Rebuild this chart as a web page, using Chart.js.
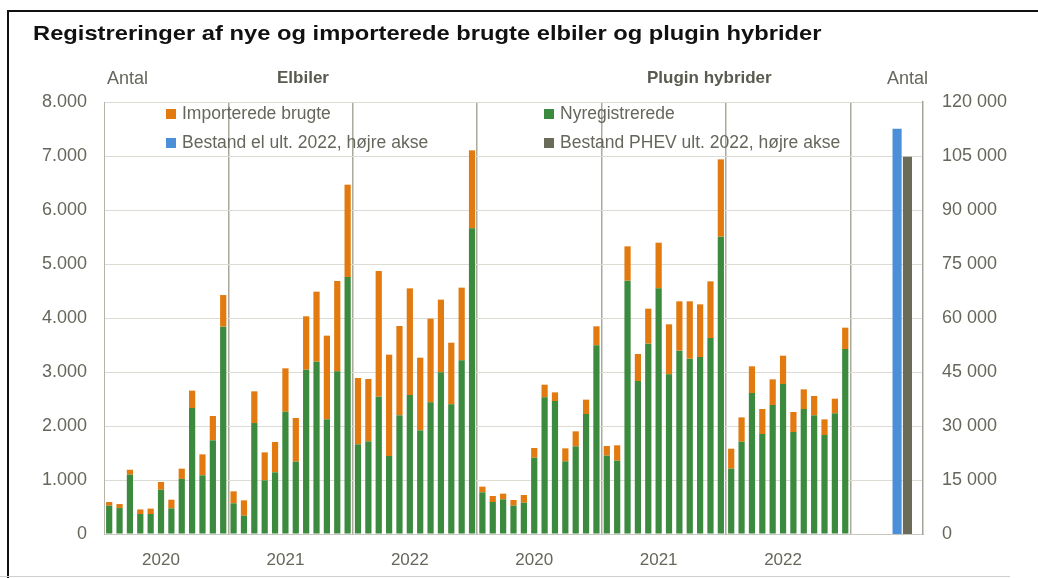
<!DOCTYPE html>
<html>
<head>
<meta charset="utf-8">
<script src="https://cdn.jsdelivr.net/npm/chart.js@4"></script>
<style>
  html, body { margin: 0; padding: 0; background: #fff; }
  body { width: 1038px; height: 578px; position: relative; overflow: hidden; font-family: "Liberation Sans", Arial, sans-serif; }
  #frame { position: absolute; left: 7px; top: 10px; width: 1040px; height: 580px; border-left: 2px solid #111; border-top: 2px solid #111; }
  #bottomline { position: absolute; left: 0; top: 576px; width: 1010px; height: 1px; background: #cfcfcf; }
  #wrap { position: absolute; left: 0; top: 0; width: 1038px; height: 578px; }
  .txt { position: absolute; white-space: nowrap; color: #66665c; font-size: 18px; line-height: 20px; }
  #title { left: 33px; top: 21px; font-size: 21px; font-weight: bold; color: #111; line-height: 24px; transform: scaleX(1.13); transform-origin: 0 50%; }
  .bold { font-weight: bold; color: #5a5a50; font-size: 17px; }
  .leg { position: absolute; white-space: nowrap; color: #66665c; font-size: 17.5px; line-height: 20px; }
  .leg i { display: inline-block; width: 10px; height: 10px; margin-right: 6px; vertical-align: 0px; }
</style>
</head>
<body>
<div id="frame"></div>
<div id="bottomline"></div>
<div id="wrap"><canvas id="chart" width="1038" height="578"></canvas></div>
<div class="txt" id="title">Registreringer af nye og importerede brugte elbiler og plugin hybrider</div>
<div class="txt" style="left:107px;top:68px;">Antal</div>
<div class="txt bold" style="left:277px;top:68px;">Elbiler</div>
<div class="txt bold" style="left:647px;top:68px;">Plugin hybrider</div>
<div class="txt" style="left:887px;top:68px;">Antal</div>
<div class="leg" style="left:166px;top:103px;"><i style="background:#e27a10"></i>Importerede brugte</div>
<div class="leg" style="left:544px;top:103px;"><i style="background:#3b8a3d"></i>Nyregistrerede</div>
<div class="leg" style="left:166px;top:132px;"><i style="background:#4a8fd7"></i>Bestand el ult. 2022, højre akse</div>
<div class="leg" style="left:544px;top:132px;"><i style="background:#6b6b59"></i>Bestand PHEV ult. 2022, højre akse</div>
<script>
  const years = ['2020', '2021', '2022'];

  // Elbiler, monthly 2020-2022
  const elNye = [525, 480, 1100, 370, 370, 820, 475, 1020, 2333, 1086, 1735, 3840,
    568, 340, 2055, 994, 1142, 2265, 1340, 3043, 3191, 2123, 3012, 4759,
    1660, 1716, 2543, 1444, 2198, 2574, 1920, 2438, 2994, 2401, 3216, 5660];
  const elTotal = [593, 555, 1190, 455, 470, 963, 635, 1210, 2655, 1475, 2185, 4425,
    790, 623, 2642, 1512, 1704, 3068, 2148, 4031, 4488, 3673, 4685, 6469,
    2889, 2870, 4870, 3321, 3852, 4549, 3265, 3988, 4340, 3543, 4562, 7105];

  // Plugin hybrider, monthly 2020-2022
  const phevNye = [772, 593, 642, 525, 580, 1414, 2531, 2463, 1346, 1623, 2222, 3494,
    1451, 1358, 4691, 2833, 3525, 4549, 2957, 3395, 3247, 3278, 3630, 5506,
    1210, 1710, 2611, 1852, 2389, 2778, 1889, 2315, 2198, 1833, 2235, 3426];
  const phevTotal = [877, 704, 747, 630, 722, 1593, 2765, 2623, 1586, 1901, 2488, 3846,
    1630, 1642, 5327, 3333, 4173, 5395, 3883, 4309, 4309, 4253, 4679, 6938,
    1580, 2160, 3105, 2315, 2864, 3302, 2259, 2679, 2556, 2123, 2506, 3821];

  const bestandEl = 112600;
  const bestandPhev = 104800;

  const leftTicks = [0, 1000, 2000, 3000, 4000, 5000, 6000, 7000, 8000];
  const rightTicks = [0, 15000, 30000, 45000, 60000, 75000, 90000, 105000, 120000];

  // 72 months, then a gap and two stock bars
  const GAP = 4;
  const labels = [];
  ['el', 'phev'].forEach(g => years.forEach(y => { for (let m = 1; m <= 12; m++) labels.push(g + ' ' + y + '-' + m); }));
  for (let i = 0; i < GAP; i++) labels.push('');
  labels.push('bestand el', 'bestand phev', '');

  const allNye = elNye.concat(phevNye);
  const allTotal = elTotal.concat(phevTotal);
  const pad = (arr) => arr.concat(new Array(labels.length - arr.length).fill(null));
  const nye = pad(allNye);
  const imp = pad(allTotal.map((t, i) => t - allNye[i]));
  const elStock = labels.map(l => l === 'bestand el' ? bestandEl : null);
  const phevStock = labels.map(l => l === 'bestand phev' ? bestandPhev : null);

  const tickFont = { family: '"Liberation Sans", Arial, sans-serif', size: 18 };

  new Chart(document.getElementById('chart'), {
    type: 'bar',
    data: {
      labels,
      datasets: [
        { label: 'Nyregistrerede', data: nye, backgroundColor: '#3b8a3d', stack: 'a', yAxisID: 'y', barPercentage: 0.6, categoryPercentage: 1 },
        { label: 'Importerede brugte', data: imp, backgroundColor: '#e27a10', stack: 'a', yAxisID: 'y', barPercentage: 0.6, categoryPercentage: 1 },
        { label: 'Bestand el ult. 2022, højre akse', data: elStock, backgroundColor: '#4a8fd7', stack: 'a', yAxisID: 'y2', barPercentage: 0.88, categoryPercentage: 1 },
        { label: 'Bestand PHEV ult. 2022, højre akse', data: phevStock, backgroundColor: '#6b6b59', stack: 'a', yAxisID: 'y2', barPercentage: 0.88, categoryPercentage: 1 }
      ]
    },
    options: {
      responsive: false,
      animation: false,
      layout: { padding: { top: 102, left: 0, right: 0, bottom: 0 } },
      plugins: { legend: { display: false }, tooltip: { enabled: false } },
      scales: {
        x: {
          stacked: true,
          offset: true,
          afterFit: s => { s.height = 44; },
          grid: {
            offset: true,
            drawTicks: false,
            lineWidth: 1.5,
            color: c => (c.index % 12 === 0 && c.index > 0 && c.index <= 72) ? '#a9a99c' : 'rgba(0,0,0,0)'
          },
          border: { color: '#c8c8c0' },
          ticks: {
            autoSkip: false,
            maxRotation: 0,
            padding: 16,
            color: '#66665c',
            font: { family: tickFont.family, size: 17 },
            callback: (v, i) => (i < 72 && i % 12 === 5) ? years[Math.floor(i / 12) % 3] : ''
          }
        },
        y: {
          position: 'left',
          stacked: true,
          min: 0,
          max: 8000,
          afterFit: s => { s.width = 104; },
          afterBuildTicks: s => { s.ticks = leftTicks.map(v => ({ value: v })); },
          grid: { color: '#dcdcd4', drawTicks: false },
          border: { color: '#b4b4aa' },
          ticks: {
            padding: 17,
            color: '#66665c',
            font: tickFont,
            callback: v => v === 0 ? '0' : (v / 1000) + '.000'
          }
        },
        y2: {
          position: 'right',
          stacked: true,
          min: 0,
          max: 120000,
          afterFit: s => { s.width = 115; },
          afterBuildTicks: s => { s.ticks = rightTicks.map(v => ({ value: v })); },
          grid: { display: false, drawTicks: false },
          border: { color: '#a4a49a', width: 1.5 },
          ticks: {
            padding: 19,
            color: '#66665c',
            font: tickFont,
            callback: v => v === 0 ? '0' : (v / 1000) + ' 000'
          }
        }
      }
    }
  });
</script>
</body>
</html>
